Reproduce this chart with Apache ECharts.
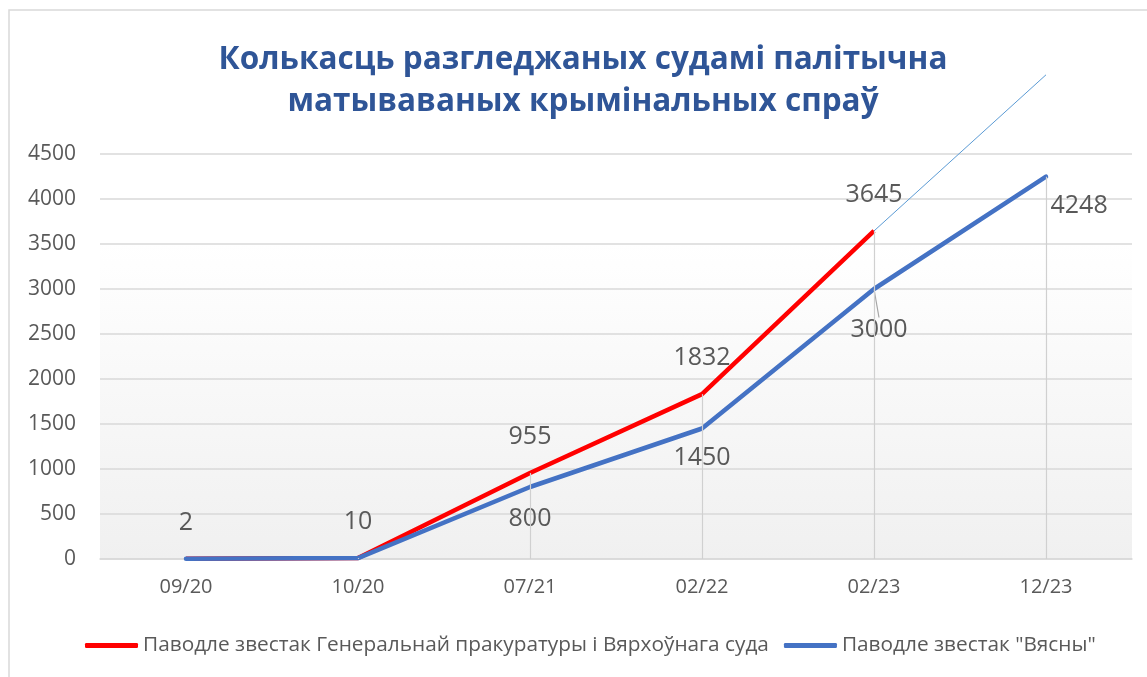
<!DOCTYPE html>
<html>
<head>
<meta charset="utf-8">
<script src="https://cdn.jsdelivr.net/npm/echarts@6/dist/echarts.min.js"></script>
<style>html,body{margin:0;padding:0;background:#fff;}#c{width:1147px;height:677px;}</style>
</head>
<body>
<div id="c"></div>
<script>
const categories = ['09/20', '10/20', '07/21', '02/22', '02/23', '12/23'];
const prosecutorValues = [2, 10, 955, 1832, 3645, null];
const viasnaValues = [2, 10, 800, 1450, 3000, 4248];
const trendValues = [null, null, null, null, 3645, 5380];
const yTicks = [0, 500, 1000, 1500, 2000, 2500, 3000, 3500, 4000, 4500];
const seriesNames = ['Паводле звестак Генеральнай пракуратуры і Вярхоўнага суда', 'Паводле звестак "Вясны"'];
const titleText = 'Колькасць разгледжаных судамі палітычна\nматываваных крымінальных спраў';

const FONT = 'Open Sans';
const LABEL_COLOR = '#595959';

const redData = prosecutorValues.map((v, i) => ({
  value: v,
  label: { show: v !== null, position: 'top', distance: 23 }
}));
const blueLabelCfg = [
  { show: false },
  { show: false },
  { show: true, position: 'bottom', distance: 19 },
  { show: true, position: 'bottom', distance: 16 },
  { show: true, position: 'bottom', distance: 4 },
  { show: true, position: [5, 17] }
];
const blueData = viasnaValues.map((v, i) => ({
  value: v,
  label: blueLabelCfg[i],
  labelLine: i === 4 ? { show: true, lineStyle: { color: '#a6a6a6', width: 1.2 } } : { show: false }
}));

const dropLines = categories.map((c, i) => {
  const m = Math.max(prosecutorValues[i] || 0, viasnaValues[i] || 0);
  return [{ coord: [i, m] }, { coord: [i, 0] }];
});

const chart = echarts.init(document.getElementById('c'), null, { renderer: 'canvas' });
chart.setOption({
  animation: false,
  backgroundColor: '#ffffff',
  graphic: [{
    type: 'rect', z: -10, silent: true,
    shape: { x: 9, y: 10, width: 1300, height: 800 },
    style: { fill: 'none', stroke: '#d9d9d9', lineWidth: 1.5 }
  }],
  title: {
    text: titleText,
    left: 578, top: 34, textAlign: 'center',
    textStyle: { fontFamily: FONT, fontWeight: 'bold', fontSize: 31.5, color: '#2F5597', lineHeight: 42 }
  },
  legend: {
    left: 80, top: 630,
    itemWidth: 53, itemHeight: 5, itemGap: 15,
    icon: 'roundRect',
    textStyle: { fontFamily: FONT, fontSize: 20.8, color: LABEL_COLOR },
    data: seriesNames
  },
  grid: {
    left: 100, right: 15, top: 154, bottom: 118,
    show: true, borderWidth: 0,
    backgroundColor: new echarts.graphic.LinearGradient(0, 0, 0, 1, [
      { offset: 0, color: '#ffffff' },
      { offset: 0.22, color: '#ffffff' },
      { offset: 1, color: '#f0f0f0' }
    ])
  },
  xAxis: {
    type: 'category', data: categories, boundaryGap: true,
    axisLine: { show: true, lineStyle: { color: '#d9d9d9', width: 1.5 } },
    axisTick: { show: false },
    axisLabel: { fontFamily: FONT, fontSize: 20, color: LABEL_COLOR, margin: 18 },
    splitLine: { show: false }
  },
  yAxis: {
    type: 'value', min: yTicks[0], max: yTicks[yTicks.length - 1], interval: yTicks[1] - yTicks[0],
    axisLine: { show: false }, axisTick: { show: false },
    axisLabel: { fontFamily: FONT, fontSize: 21, color: LABEL_COLOR, margin: 24, formatter: v => String(v) },
    splitLine: { lineStyle: { color: '#d9d9d9', width: 1.5 } }
  },
  series: [
    {
      type: 'line', name: '_drop', data: categories.map(() => null), silent: true, z: 1,
      markLine: {
        silent: true, symbol: 'none', label: { show: false },
        lineStyle: { color: '#d0d0d0', width: 1.2, type: 'solid' },
        data: dropLines
      }
    },
    {
      type: 'line', name: '_trend', data: trendValues, clip: false, z: 2,
      showSymbol: false, symbol: 'none', silent: true,
      lineStyle: { color: '#5B9BD5', width: 1 }
    },
    {
      type: 'line', name: seriesNames[0], data: redData, z: 3,
      showSymbol: true, symbol: 'circle', symbolSize: 1, connectNulls: false,
      labelLayout: { hideOverlap: false },
      itemStyle: { color: '#FF0000' },
      lineStyle: { color: '#FF0000', width: 4.5 },
      label: { show: true, fontFamily: FONT, fontSize: 25, color: LABEL_COLOR }
    },
    {
      type: 'line', name: seriesNames[1], data: blueData, z: 4,
      showSymbol: true, symbol: 'circle', symbolSize: 1,
      labelLayout: function (p) {
        if (p.dataIndex === 4) return { dx: 5, dy: 24, hideOverlap: false };
        return { hideOverlap: false };
      },
      itemStyle: { color: '#4472C4' },
      lineStyle: { color: '#4472C4', width: 4.5, cap: 'round' },
      label: { show: true, fontFamily: FONT, fontSize: 25, color: LABEL_COLOR }
    }
  ]
});
</script>
</body>
</html>
